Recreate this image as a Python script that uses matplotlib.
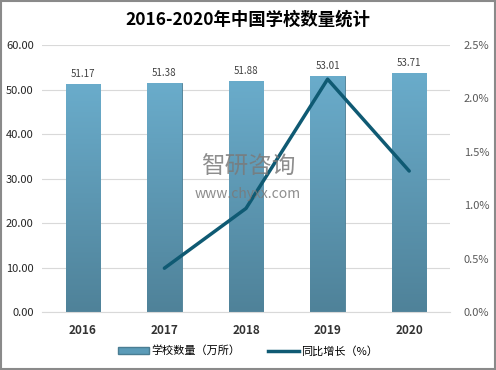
import matplotlib
matplotlib.use("Agg")
import matplotlib.pyplot as plt
import numpy as np
from matplotlib.patches import Rectangle, Patch
from matplotlib.lines import Line2D
from matplotlib.colors import LinearSegmentedColormap

plt.rcParams['font.family'] = ['Noto Sans CJK SC', 'DejaVu Sans']

years = ['2016', '2017', '2018', '2019', '2020']
schools = [51.17, 51.38, 51.88, 53.01, 53.71]
growth_years = ['2017', '2018', '2019', '2020']
growth = [0.41, 0.97, 2.18, 1.32]
left_ticks = [0, 10, 20, 30, 40, 50, 60]
right_ticks = [0, 0.5, 1.0, 1.5, 2.0, 2.5]

fig = plt.figure(figsize=(4.96, 3.70), dpi=100)
fig.patches.append(Rectangle((0.002, 0.003), 0.996, 0.994, transform=fig.transFigure,
                             fill=False, edgecolor='#8a8a8a', linewidth=1.5))
ax = fig.add_axes([42/496, 1-312/370, (450-42)/496, (312-45)/370])
ax2 = ax.twinx()

x = np.arange(len(years))
bars = ax.bar(x, schools, width=0.42, color='#5b9bb8', edgecolor='#4a7d93', linewidth=0.6, zorder=2)
grad = np.linspace(0, 1, 256).reshape(-1, 1)
cmap = LinearSegmentedColormap.from_list('g', ['#4f8299', '#6aaccb'])
for b in bars:
    bx, by = b.get_x(), b.get_y()
    w, h = b.get_width(), b.get_height()
    im = ax.imshow(grad, extent=[bx, bx + w, by, by + h], origin='lower', cmap=cmap,
                   aspect='auto', zorder=2.5)
    im.set_clip_path(b)
    ax.text(bx + w/2, h + 1.2, f'{h:.2f}', ha='center', va='bottom', fontsize=7, color='#404040')

ax.set_xlim(-0.5, len(years) - 0.5)
ax.set_ylim(0, 60)
ax.set_yticks(left_ticks)
ax.set_yticklabels([f'{v:.2f}' for v in left_ticks], fontsize=8, color='#262626')
ax.set_xticks(x)
ax.set_xticklabels(years, fontsize=8.5, fontweight='bold', color='#333333')
ax.grid(axis='y', color='#d9d9d9', linewidth=0.8, zorder=0)
ax.set_axisbelow(True)
ax.tick_params(length=0, pad=6)
ax.tick_params(axis='x', pad=9)
for s in ax.spines.values():
    s.set_visible(False)
ax.spines['bottom'].set_visible(True)
ax.spines['bottom'].set_color('#d9d9d9')

gx = [years.index(y) for y in growth_years]
ax2.plot(gx, growth, color='#0f5a73', linewidth=2.5, zorder=5, solid_capstyle='round')
ax2.set_ylim(0, 2.5)
ax2.set_yticks(right_ticks)
ax2.set_yticklabels([f'{v:.1f}%' for v in right_ticks], fontsize=8, color='#595959')
ax2.tick_params(length=0, pad=10)
for s in ax2.spines.values():
    s.set_visible(False)

fig.text(0.5, 1-20/370, '2016-2020年中国学校数量统计', ha='center', va='center',
         fontsize=12.5, fontweight='bold', color='#000000')

# watermark
fig.text(0.5, 1-167/370, '智研咨询', ha='center', va='center', fontsize=17,
         color='#7a7a7a', alpha=0.85, zorder=10)
fig.text(0.5, 1-194/370, 'www.chyxx.com', ha='center', va='center', fontsize=10,
         color='#7a7a7a', alpha=0.85, zorder=10)

handles = [Patch(facecolor='#5b9bb8', edgecolor='#4a7d93'),
           Line2D([0], [0], color='#0f5a73', linewidth=2.5)]
fig.legend(handles, ['学校数量（万所）', '同比增长（%）'], loc='center',
           bbox_to_anchor=(0.5, 1-351/370), ncol=2, frameon=False, fontsize=8,
           handlelength=2.8, handleheight=0.6, columnspacing=2.5, handletextpad=0.2)

fig.savefig('out.png', dpi=100)
